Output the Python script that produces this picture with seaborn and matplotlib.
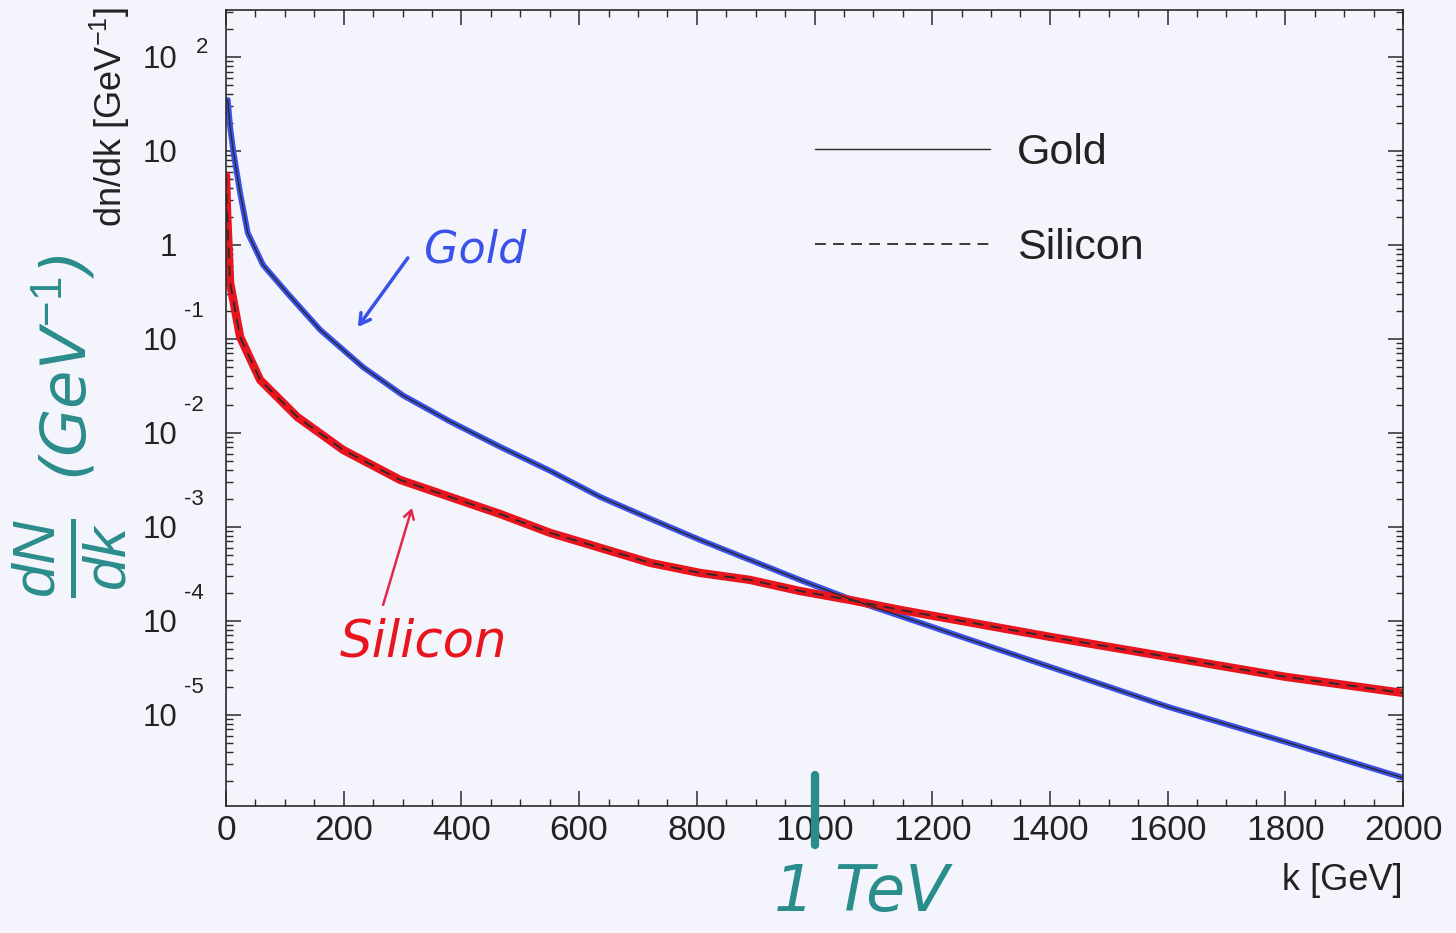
import numpy as np
import pandas as pd
import matplotlib
matplotlib.use("Agg")
import matplotlib.pyplot as plt
import seaborn as sns
from matplotlib.ticker import MultipleLocator, LogLocator, FixedLocator, FixedFormatter, NullFormatter

# ---- data ----
k_gold = [3, 7, 12, 24, 37, 63, 104, 160, 233, 301, 381, 466, 551, 636, 721, 805,
          890, 975, 1060, 1145, 1315, 1400, 1600, 1800, 2000]
dndk_gold = [34.9, 18.0, 10.3, 3.57, 1.34, 0.612, 0.308, 0.125, 5.0e-2, 2.5e-2,
             1.32e-2, 7.1e-3, 3.94e-3, 2.08e-3, 1.22e-3, 7.28e-4, 4.46e-4, 2.73e-4,
             1.71e-4, 1.13e-4, 4.91e-5, 3.24e-5, 1.22e-5, 5.16e-6, 2.14e-6]

k_si = [0, 2, 7, 24, 58, 121, 199, 296, 381, 466, 551, 636, 721, 805, 890, 975,
        1060, 1145, 1315, 1400, 1600, 1800, 2000]
dndk_si = [5.5, 2.08, 0.394, 0.105, 3.66e-2, 1.48e-2, 6.59e-3, 3.16e-3, 2.08e-3,
           1.37e-3, 8.63e-4, 5.98e-4, 4.14e-4, 3.24e-4, 2.73e-4, 2.08e-4, 1.67e-4,
           1.31e-4, 8.43e-5, 6.76e-5, 4.14e-5, 2.54e-5, 1.71e-5]

series_names = ["Gold", "Silicon"]
x_ticks = [0, 200, 400, 600, 800, 1000, 1200, 1400, 1600, 1800, 2000]
y_ticks = [1e2, 1e1, 1e0, 1e-1, 1e-2, 1e-3, 1e-4, 1e-5]
y_tick_base = ["10", "10", "1", "10", "10", "10", "10", "10"]
y_tick_exp = ["2", "", "", "-1", "-2", "-3", "-4", "-5"]

gold_df = pd.DataFrame({"k": k_gold, "dndk": dndk_gold})
si_df = pd.DataFrame({"k": k_si, "dndk": dndk_si})

# ---- style ----
sns.set_theme(style="ticks")
plt.rcParams["font.family"] = ["Liberation Sans", "DejaVu Sans"]
plt.rcParams["mathtext.fontset"] = "custom"
plt.rcParams["mathtext.rm"] = "Liberation Sans"
plt.rcParams["mathtext.it"] = "Liberation Sans:italic"

bg = "#f4f4fc"
ink = "#2a2a2a"
teal = "#2b8c8c"
blue = "#3b52ea"
red = "#e8141e"

fig = plt.figure(figsize=(14.56, 9.33), dpi=100, facecolor=bg)
ax = fig.add_axes([226 / 1456, 1 - 806 / 933, (1403 - 226) / 1456, (806 - 10) / 933])
ax.set_facecolor(bg)

# hand-drawn traces (under the printed curves)
sns.lineplot(data=gold_df, x="k", y="dndk", ax=ax, color=blue, lw=4.2,
             sort=False, estimator=None, zorder=2, solid_capstyle="round")
sns.lineplot(data=si_df, x="k", y="dndk", ax=ax, color=red, lw=6.0,
             sort=False, estimator=None, zorder=2, solid_capstyle="round")

# printed curves
sns.lineplot(data=gold_df, x="k", y="dndk", ax=ax, color=ink, lw=1.0,
             sort=False, estimator=None, zorder=3)
gold_line = ax.lines[-1]
sns.lineplot(data=si_df, x="k", y="dndk", ax=ax, color=ink, lw=1.3,
             sort=False, estimator=None, zorder=3)
si_line = ax.lines[-1]
si_line.set_dashes((6, 4))

ax.set_yscale("log")
ax.set_xlim(0, 2000)
ax.set_ylim(10 ** -5.97, 10 ** 2.5)

# ticks
ax.xaxis.set_major_locator(FixedLocator(x_ticks))
ax.xaxis.set_minor_locator(MultipleLocator(50))
ax.set_xticklabels([str(t) for t in x_ticks])
ax.yaxis.set_major_locator(FixedLocator(y_ticks))
ax.yaxis.set_major_formatter(FixedFormatter(y_tick_base))
ax.yaxis.set_minor_locator(LogLocator(base=10, subs=np.arange(2, 10), numticks=20))
ax.yaxis.set_minor_formatter(NullFormatter())
ax.tick_params(which="both", direction="in", top=True, right=True, colors=ink)
ax.tick_params(which="major", length=11, width=1.1)
ax.tick_params(which="minor", length=5, width=1.0)
ax.tick_params(axis="x", which="major", labelsize=25.5, pad=6, labelcolor="#222222")
ax.tick_params(axis="y", which="major", labelsize=22.5, pad=35, labelcolor="#222222")
for s in ax.spines.values():
    s.set_color(ink)
    s.set_linewidth(1.2)

for v, e in zip(y_ticks, y_tick_exp):
    if e:
        if e.startswith("-"):
            off = (-23, 19.5)
        else:
            off = (-17, 7)
        ax.annotate(e, xy=(0, v), xycoords=("axes fraction", "data"), xytext=off,
                    textcoords="offset points", ha="center", va="center",
                    fontsize=16, color="#222222", annotation_clip=False)

ax.set_xlabel("")
ax.set_ylabel("")
fig.text(110 / 1456, 1 - 7 / 933, r"dn/dk [GeV$^{\mathregular{-1}}$]", rotation=90,
         ha="center", va="top", fontsize=26, color="#222222")
fig.text(1403 / 1456, 1 - 880 / 933, "k [GeV]", ha="right", va="center",
         fontsize=26, color="#222222")

# legend
leg = ax.legend([gold_line, si_line], series_names, loc="upper left",
                bbox_to_anchor=(0.5004, 0.845), frameon=False, fontsize=31,
                handlelength=4.07, handletextpad=0.63, labelspacing=1.27,
                borderpad=0, borderaxespad=0)
for t in leg.get_texts():
    t.set_color("#222222")

# handwritten annotations
ax.annotate("", xy=(224, 0.134), xytext=(309, 0.728),
            arrowprops=dict(arrowstyle="->,head_length=0.6,head_width=0.35",
                            color=blue, lw=2.5, shrinkA=0, shrinkB=0))
ax.text(423, 0.885, "Gold", fontsize=32, style="italic", color=blue,
        ha="center", va="center", family="DejaVu Sans")
ax.annotate("", xy=(316, 1.59e-3), xytext=(267, 1.48e-4),
            arrowprops=dict(arrowstyle="->,head_length=0.5,head_width=0.3",
                            color="#e3264a", lw=1.8, shrinkA=0, shrinkB=0))
ax.text(336, 5.83e-5, "Silicon", fontsize=37, style="italic", color=red,
        ha="center", va="center", family="DejaVu Sans")
ax.axvline(1000, ymin=-0.049, ymax=0.039, clip_on=False, color=teal, lw=6,
           solid_capstyle="round", zorder=5)
ax.text(0.54, -0.109, "1 TeV", transform=ax.transAxes, ha="center", va="center",
        fontsize=46, style="italic", color=teal, family="DejaVu Sans")
fig.text(70 / 1456, 1 - 558 / 933, r"$\frac{dN}{dk}$", rotation=90,
         ha="center", va="center", fontsize=62, color=teal, family="DejaVu Sans")
fig.text(65 / 1456, 1 - 368 / 933, r"(GeV$^{-1}$)", rotation=90,
         ha="center", va="center", fontsize=45, color=teal, style="italic",
         family="DejaVu Sans")

fig.savefig("out.png", dpi=100, facecolor=bg)
